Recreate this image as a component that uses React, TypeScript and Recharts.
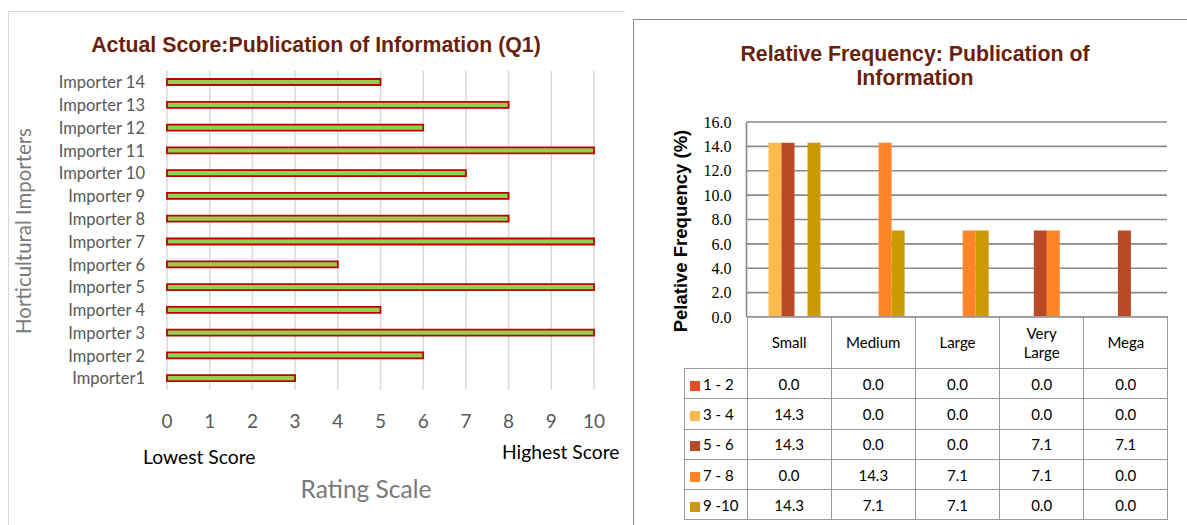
import React from "react";
import { BarChart, Bar, XAxis, YAxis, CartesianGrid } from "recharts";

// left chart: actual score per importer
const importers = [
  "Importer1", "Importer 2", "Importer 3", "Importer 4", "Importer 5", "Importer 6", "Importer 7",
  "Importer 8", "Importer 9", "Importer 10", "Importer 11", "Importer 12", "Importer 13", "Importer 14",
];
const actualScores = [3, 6, 10, 5, 10, 4, 10, 8, 8, 7, 10, 6, 8, 5];
const ratingTicks = [0, 1, 2, 3, 4, 5, 6, 7, 8, 9, 10];

// right chart: relative frequency by size class
const sizeClasses = ["Small", "Medium", "Large", "Very Large", "Mega"];
const scoreBands = ["1 - 2", "3 - 4", "5 - 6", "7 - 8", "9 -10"];
const freq1to2 = [0.0, 0.0, 0.0, 0.0, 0.0];
const freq3to4 = [14.3, 0.0, 0.0, 0.0, 0.0];
const freq5to6 = [14.3, 0.0, 0.0, 7.1, 7.1];
const freq7to8 = [0.0, 14.3, 7.1, 7.1, 0.0];
const freq9to10 = [14.3, 7.1, 7.1, 0.0, 0.0];
const freqTicks = [0, 2, 4, 6, 8, 10, 12, 14, 16];

const bandSeries = [freq1to2, freq3to4, freq5to6, freq7to8, freq9to10];
const bandColors = ["#E84C22", "#FDB94C", "#B94A25", "#FF8427", "#CC9900"];

const scoreData = importers.map((name, i) => ({ name, score: actualScores[i] }));
const freqData = sizeClasses.map((size, i) => {
  const row: Record<string, any> = { size };
  bandSeries.forEach((s, j) => {
    row["b" + j] = s[i];
  });
  return row;
});

const calibri = "Lato, 'Open Sans', sans-serif";
const arial = "'Liberation Sans', Arial, sans-serif";
const tableBorder = "1.5px solid #9a9a9a";

const cell: React.CSSProperties = {
  border: tableBorder,
  textAlign: "center",
  padding: 0,
  color: "#000",
};

export default function App() {
  return (
    <div style={{ position: "absolute", left: 0, top: 0, width: 1187, height: 525, background: "#fff", overflow: "hidden" }}>
      {/* left panel frame */}
      <div style={{ position: "absolute", left: 8, top: 11, width: 616, height: 600, borderLeft: "1px solid #d9d9d9", borderTop: "1px solid #d9d9d9" }} />
      <div style={{ position: "absolute", left: 16, top: 33, width: 600, textAlign: "center", fontFamily: arial, fontWeight: "bold", fontSize: 21.3, color: "#6B1F0C", whiteSpace: "nowrap" }}>
        Actual Score:Publication of Information (Q1)
      </div>
      <div style={{ position: "absolute", left: 0, top: 0 }}>
        <BarChart width={620} height={525} layout="vertical" data={scoreData} margin={{ top: 71, right: 26, left: 0, bottom: 0 }}>
          <CartesianGrid horizontal={false} stroke="#d9d9d9" strokeWidth={1.5} />
          <XAxis
            type="number"
            domain={[0, 10]}
            ticks={ratingTicks}
            interval={0}
            height={135}
            axisLine={false}
            tickLine={false}
            tickMargin={19}
            tick={{ fill: "#595959", fontSize: 19, fontFamily: calibri }}
          />
          <YAxis
            type="category"
            dataKey="name"
            reversed
            width={167}
            interval={0}
            axisLine={false}
            tickLine={false}
            tickMargin={16}
            tick={{ fill: "#595959", fontSize: 16.5, fontFamily: calibri }}
          />
          <Bar dataKey="score" fill="#92D050" stroke="#C00000" strokeWidth={1.8} barSize={6} isAnimationActive={false} />
        </BarChart>
      </div>
      <div style={{ position: "absolute", left: 23, top: 231, transform: "translate(-50%, -50%) rotate(-90deg)", whiteSpace: "nowrap", fontFamily: calibri, fontSize: 20.4, color: "#7a7a7a" }}>
        Horticultural Importers
      </div>
      <div style={{ position: "absolute", left: 143, top: 445, fontFamily: calibri, fontSize: 19.3, color: "#000", whiteSpace: "nowrap" }}>Lowest Score</div>
      <div style={{ position: "absolute", left: 502, top: 440, fontFamily: calibri, fontSize: 19.3, color: "#000", whiteSpace: "nowrap" }}>Highest Score</div>
      <div style={{ position: "absolute", left: 366, top: 488, transform: "translate(-50%, -50%)", fontFamily: calibri, fontSize: 24.5, color: "#7a7a7a", whiteSpace: "nowrap" }}>
        Rating Scale
      </div>

      {/* right panel frame */}
      <div style={{ position: "absolute", left: 633, top: 19, width: 600, height: 600, borderLeft: "1px solid #8c8c8c", borderTop: "1px solid #8c8c8c" }} />
      <div style={{ position: "absolute", left: 665, top: 42, width: 500, textAlign: "center", fontFamily: arial, fontWeight: "bold", fontSize: 21.3, lineHeight: "24px", color: "#6B1F0C" }}>
        Relative Frequency: Publication of
        <br />
        Information
      </div>
      <div style={{ position: "absolute", left: 630, top: 0 }}>
        <BarChart width={557} height={525} data={freqData} margin={{ top: 122, right: 20, left: 0, bottom: 0 }} barCategoryGap={9} barGap={0}>
          <CartesianGrid vertical={false} stroke="#8a8a8a" strokeWidth={1.6} />
          <XAxis dataKey="size" height={208} tick={false} axisLine={false} tickLine={false} />
          <YAxis
            domain={[0, 16]}
            ticks={freqTicks}
            interval={0}
            width={116.5}
            axisLine={{ stroke: "#8a8a8a", strokeWidth: 1.6 }}
            tickLine={false}
            tickMargin={9}
            tickFormatter={(v: number) => v.toFixed(1)}
            tick={{ fill: "#000", fontSize: 16, fontFamily: "'Liberation Serif', 'Times New Roman', serif" }}
          />
          {scoreBands.map((b, j) => (
            <Bar key={b} dataKey={"b" + j} name={b} fill={bandColors[j]} isAnimationActive={false} />
          ))}
        </BarChart>
      </div>
      <div style={{ position: "absolute", left: 681, top: 231, transform: "translate(-50%, -50%) rotate(-90deg)", whiteSpace: "nowrap", fontFamily: arial, fontWeight: "bold", fontSize: 18.5, color: "#000" }}>
        Pelative Frequency (%)
      </div>

      <table style={{ position: "absolute", left: 684, top: 316, borderCollapse: "collapse", tableLayout: "fixed", width: 484, fontFamily: calibri, fontSize: 15 }}>
        <colgroup>
          <col style={{ width: 62.5 }} />
          {sizeClasses.map((s) => (
            <col key={s} style={{ width: 84.2 }} />
          ))}
        </colgroup>
        <tbody>
          <tr style={{ height: 52 }}>
            <td style={{ border: "none", padding: 0 }} />
            {sizeClasses.map((s) => (
              <td key={s} style={{ ...cell, lineHeight: "19px" }}>
                {s === "Very Large" ? (
                  <>
                    Very
                    <br />
                    Large
                  </>
                ) : (
                  s
                )}
              </td>
            ))}
          </tr>
          {scoreBands.map((b, j) => (
            <tr key={b} style={{ height: 30.3 }}>
              <td style={{ ...cell, textAlign: "left", paddingLeft: 5, whiteSpace: "nowrap" }}>
                <span style={{ display: "inline-block", width: 10, height: 10, background: bandColors[j], marginRight: 3, verticalAlign: "-1px" }} />
                {b}
              </td>
              {bandSeries[j].map((v, i) => (
                <td key={i} style={cell}>
                  {v.toFixed(1)}
                </td>
              ))}
            </tr>
          ))}
        </tbody>
      </table>
    </div>
  );
}
